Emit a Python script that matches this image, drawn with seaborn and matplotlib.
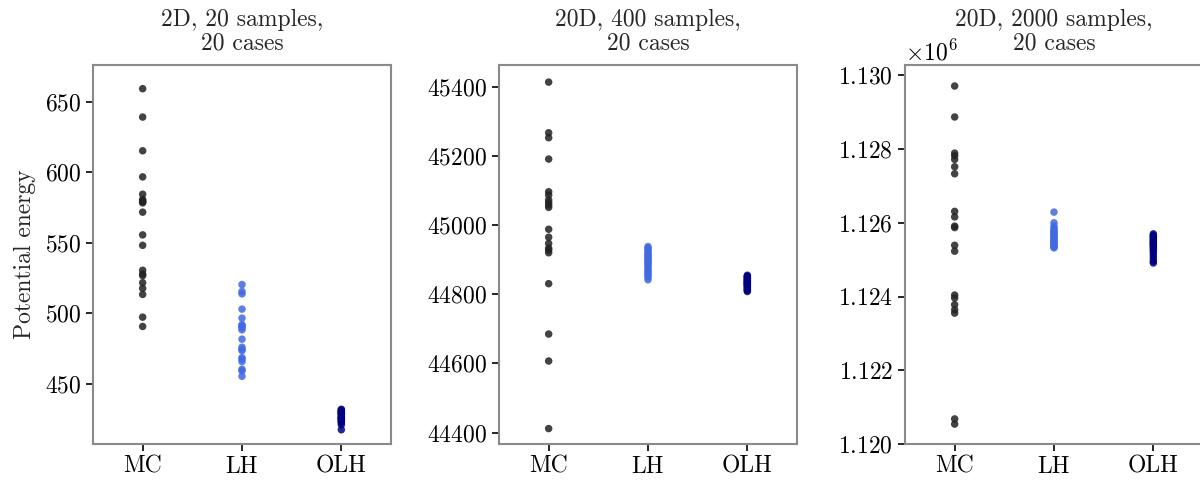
import numpy as np
import pandas as pd
import matplotlib
matplotlib.use("Agg")
import matplotlib.pyplot as plt
import seaborn as sns

methods = ["MC", "LH", "OLH"]
palette = {"MC": "#222222", "LH": "royalblue", "OLH": "navy"}

titles = [
    "2D, 20 samples,\n20 cases",
    "20D, 400 samples,\n20 cases",
    "20D, 2000 samples,\n20 cases",
]

# 2D, 20 samples
mc_2d = [659.2, 639.1, 615.2, 596.7, 584.4, 580.7, 579.6, 579.0, 578.3, 571.7,
         555.6, 548.2, 530.5, 527.9, 526.7, 521.7, 517.7, 513.4, 497.3, 490.7]
lh_2d = [520.4, 515.5, 513.8, 503.0, 496.6, 492.0, 491.0, 490.8, 489.8, 488.3,
         481.7, 476.0, 474.5, 473.6, 468.6, 467.5, 465.8, 460.4, 459.2, 455.4]
olh_2d = [432.0, 431.5, 431.0, 430.5, 430.0, 429.5, 429.0, 428.5, 428.0, 427.0,
          426.5, 426.0, 425.5, 425.0, 424.5, 424.0, 423.0, 422.5, 421.0, 417.5]

# 20D, 400 samples
mc_400 = [45413.5, 45267.0, 45252.6, 45191.0, 45096.5, 45087.0, 45072.5, 45065.0,
          45058.0, 45051.3, 44988.0, 44965.0, 44947.0, 44933.0, 44928.0, 44920.0,
          44830.6, 44685.0, 44607.0, 44411.6]
lh_400 = [44938, 44933, 44928, 44922, 44917, 44913, 44909, 44905, 44900, 44896,
          44892, 44887, 44882, 44876, 44870, 44865, 44860, 44855, 44850, 44842]
olh_400 = [44855, 44852, 44850, 44847, 44845, 44842, 44840, 44838, 44836, 44834,
           44832, 44830, 44828, 44826, 44823, 44820, 44817, 44814, 44811, 44808]

# 20D, 2000 samples
mc_2000 = [1.12971e6, 1.12887e6, 1.12789e6, 1.12782e6, 1.12772e6, 1.12752e6,
           1.12733e6, 1.12631e6, 1.12616e6, 1.12591e6, 1.12587e6, 1.12539e6,
           1.12523e6, 1.12404e6, 1.12396e6, 1.12378e6, 1.12364e6, 1.12355e6,
           1.12068e6, 1.12054e6]
lh_2000 = [1.12629e6, 1.12600e6, 1.12591e6, 1.12585e6, 1.12580e6, 1.12576e6,
           1.12573e6, 1.12569e6, 1.12566e6, 1.12562e6, 1.12559e6, 1.12555e6,
           1.12552e6, 1.12548e6, 1.12546e6, 1.12543e6, 1.12540e6, 1.12537e6,
           1.12535e6, 1.12532e6]
olh_2000 = [1.12570e6, 1.12566e6, 1.12563e6, 1.12560e6, 1.12557e6, 1.12554e6,
            1.12551e6, 1.12548e6, 1.12545e6, 1.12542e6, 1.12539e6, 1.12536e6,
            1.12532e6, 1.12528e6, 1.12523e6, 1.12517e6, 1.12510e6, 1.12503e6,
            1.12496e6, 1.12491e6]

cases = [
    (mc_2d, lh_2d, olh_2d),
    (mc_400, lh_400, olh_400),
    (mc_2000, lh_2000, olh_2000),
]
ylims = [(407.4, 676.0), (44367, 45463), (1.1200e6, 1.13028e6)]

sns.set_theme(style="ticks")
plt.rcParams["font.family"] = ["cmr10", "DejaVu Serif"]
plt.rcParams["mathtext.fontset"] = "cm"
plt.rcParams["axes.formatter.use_mathtext"] = True
plt.rcParams["axes.unicode_minus"] = False
plt.rcParams["axes.edgecolor"] = "#8a8a8a"
plt.rcParams["axes.linewidth"] = 1.5

FS = 17

fig = plt.figure(figsize=(12, 4.82), dpi=100)
H = 482.0
W = 1200.0
lefts = [93, 499, 905]
width = 298
top, bottom = 65, 444

for i, (mc, lh, olh) in enumerate(cases):
    ax = fig.add_axes([lefts[i] / W, 1 - bottom / H, width / W, (bottom - top) / H])
    df = pd.DataFrame({
        "method": ["MC"] * len(mc) + ["LH"] * len(lh) + ["OLH"] * len(olh),
        "energy": list(mc) + list(lh) + list(olh),
    })
    sns.stripplot(data=df, x="method", y="energy", hue="method", order=methods,
                  palette=palette, jitter=False, size=5.4, alpha=0.85,
                  linewidth=0, legend=False, ax=ax)
    ax.set_ylim(*ylims[i])
    ax.set_xlim(-0.5, 2.5)
    ax.set_xlabel("")
    ax.set_ylabel("Potential energy" if i == 0 else "", fontsize=FS, labelpad=6)
    # fixed y keeps all titles level, even above the offset text
    ax.set_title(titles[i], fontsize=FS, linespacing=1.1, y=1.0, pad=11)
    ax.tick_params(axis="both", labelsize=FS, colors="black", length=5,
                   width=1.2, direction="out", color="black")
    for s in ax.spines.values():
        s.set_color("#8a8a8a")
    if i == 2:
        ax.set_yticks([1.120e6, 1.122e6, 1.124e6, 1.126e6, 1.128e6, 1.130e6])
        ax.ticklabel_format(axis="y", style="sci", scilimits=(6, 6), useMathText=True)
        ax.yaxis.get_offset_text().set_fontsize(FS)
    elif i == 1:
        ax.set_yticks([44400, 44600, 44800, 45000, 45200, 45400])
    else:
        ax.set_yticks([450, 500, 550, 600, 650])

fig.savefig("out.png", dpi=100)
